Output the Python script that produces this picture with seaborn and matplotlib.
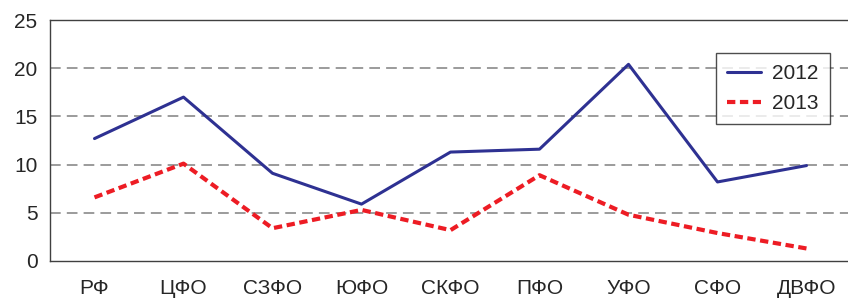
import numpy as np
import pandas as pd
import seaborn as sns
import matplotlib.pyplot as plt

# Values
regions = ['РФ', 'ЦФО', 'СЗФО', 'ЮФО', 'СКФО', 'ПФО', 'УФО', 'СФО', 'ДВФО']
values_2012 = [12.7, 17.0, 9.1, 5.9, 11.3, 11.6, 20.4, 8.2, 9.9]
values_2013 = [6.6, 10.1, 3.4, 5.3, 3.2, 8.9, 4.8, 2.9, 1.3]
years = ['2012', '2013']

df = pd.DataFrame({
    'pos': list(range(len(regions))) * 2,
    'value': values_2012 + values_2013,
    'year': [years[0]] * len(regions) + [years[1]] * len(regions),
})

sns.set_style('white')
plt.rcParams['font.family'] = ['Liberation Sans', 'DejaVu Sans']

fig = plt.figure(figsize=(8.48, 2.99), dpi=100)
ax = fig.add_axes([50 / 848, 1 - 261 / 299, 801 / 848, (261 - 20) / 299])

sns.lineplot(data=df, x='pos', y='value', hue='year', style='year',
             palette={'2012': '#2e3192', '2013': '#ed1c24'},
             dashes={'2012': '', '2013': (2, 1.1)},
             size='year', sizes={'2012': 2.2, '2013': 3.0},
             ax=ax, legend=True)

# grid
for yv in [5, 10, 15, 20]:
    ax.axhline(yv, color='#808080', lw=1.1, dashes=(7, 4), zorder=0)

ax.set_ylim(0, 25)
ax.set_xlim(-0.5, 8.5)
ax.set_yticks([0, 5, 10, 15, 20, 25])
ax.set_xticks(np.arange(-0.5, 8.6, 1))
ax.set_xticklabels([])
ax.set_xticks(range(len(regions)), minor=True)
ax.set_xticklabels(regions, minor=True)
ax.tick_params(axis='x', which='major', length=7, width=1, color='#404040', direction='out')
ax.tick_params(axis='x', which='minor', length=0, pad=13, labelsize=15)
ax.tick_params(axis='y', length=7, width=1, color='#404040', direction='out', labelsize=15, pad=2)
ax.set_xlabel('')
ax.set_ylabel('')

for side in ['left', 'bottom', 'top']:
    ax.spines[side].set_color('#404040')
    ax.spines[side].set_linewidth(1.0)
ax.spines['right'].set_visible(False)

leg = ax.legend(loc='upper left', bbox_to_anchor=(716 / 848, 1 - 53 / 299),
                bbox_transform=fig.transFigure,
                fontsize=15, frameon=True, fancybox=False, handlelength=1.6,
                handletextpad=0.55, borderpad=0.55, labelspacing=0.5,
                borderaxespad=0)
leg.get_frame().set_edgecolor('#202020')
leg.get_frame().set_linewidth(1.0)

plt.savefig('out.png', dpi=100)
